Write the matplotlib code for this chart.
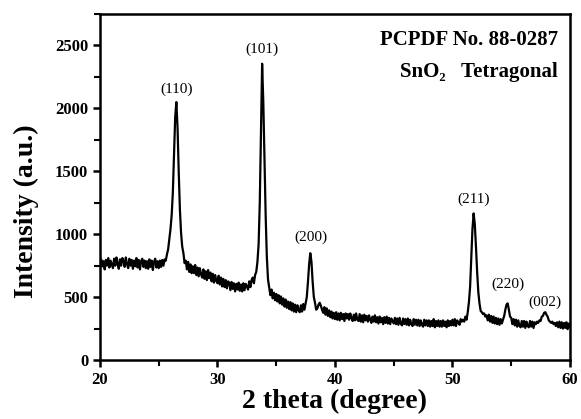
"""
XRD pattern of SnO2 (tetragonal, PCPDF 88-0287).
"""

import numpy as np
import matplotlib
matplotlib.use("Agg")
import matplotlib.pyplot as plt
from matplotlib.ticker import MultipleLocator

# ---------------------------------------------------------------------------
#  Data (0.1 degree step, 20..60)
# ---------------------------------------------------------------------------

two_theta_start = 20.0
two_theta_step = 0.1

intensity = [
    730, 800, 745, 785, 720, 795, 750, 810, 735, 790,      # 20
    760, 730, 805, 750, 815, 765, 725, 800, 750, 810,      # 21
    790, 740, 815, 760, 730, 805, 750, 795, 725, 790,      # 22
    745, 810, 735, 795, 720, 785, 805, 740, 790, 730,      # 23
    785, 725, 800, 740, 790, 715, 780, 805, 735, 785,      # 24
    730, 790, 740, 795, 750, 800, 790, 840, 880, 960,      # 25
    1040, 1150, 1330, 1640, 1930, 2050, 1850, 1500, 1200, 1010,  # 26
    900, 850, 770, 790, 720, 780, 700, 760, 690, 745,      # 27
    690, 755, 675, 735, 665, 730, 680, 655, 720, 645,      # 28
    705, 635, 715, 650, 695, 625, 685, 615, 675, 630,      # 29
    610, 670, 600, 655, 585, 645, 580, 635, 570, 625,      # 30
    615, 555, 620, 565, 610, 545, 605, 560, 615, 550,      # 31
    600, 545, 610, 555, 605, 585, 560, 625, 580, 635,      # 32
    655, 610, 675, 700, 780, 920, 1250, 1800, 2355, 2050,  # 33
    1600, 1150, 820, 640, 575, 515, 560, 490, 535, 475,    # 34
    525, 465, 515, 450, 505, 440, 490, 425, 480, 415,      # 35
    465, 405, 460, 395, 450, 385, 440, 380, 435, 395,      # 36
    380, 435, 385, 445, 400, 450, 500, 620, 760, 849,      # 37
    780, 620, 500, 455, 400, 410, 440, 455, 430, 400,      # 38
    375, 420, 360, 410, 350, 395, 340, 385, 330, 375,      # 39
    325, 380, 320, 370, 315, 375, 325, 365, 310, 370,      # 40
    330, 365, 320, 370, 335, 310, 360, 315, 370, 320,      # 41
    310, 365, 305, 355, 300, 360, 315, 350, 305, 355,      # 42
    320, 295, 345, 305, 355, 300, 340, 290, 345, 300,      # 43
    335, 285, 340, 295, 345, 290, 335, 285, 330, 310,      # 44
    290, 335, 285, 330, 280, 335, 290, 275, 330, 285,      # 45
    325, 280, 330, 275, 320, 285, 270, 325, 280, 320,      # 46
    275, 320, 270, 315, 280, 265, 320, 275, 315, 270,      # 47
    315, 265, 310, 270, 325, 260, 310, 270, 315, 265,      # 48
    310, 265, 315, 270, 305, 260, 315, 270, 310, 275,      # 49
    320, 275, 325, 270, 315, 300, 280, 325, 305, 320,      # 50
    305, 345, 320, 380, 460, 580, 800, 1040, 1165, 1080,   # 51
    900, 700, 540, 450, 390, 380, 365, 370, 345, 355,      # 52
    315, 360, 305, 350, 295, 345, 290, 335, 285, 330,      # 53
    280, 325, 290, 320, 350, 400, 440, 450, 400, 345,      # 54
    335, 285, 325, 275, 320, 265, 315, 270, 260, 310,      # 55
    265, 310, 255, 305, 270, 260, 310, 265, 305, 255,      # 56
    300, 285, 305, 295, 315, 310, 345, 350, 375, 380,      # 57
    360, 345, 315, 305, 295, 305, 285, 295, 270, 300,      # 58
    260, 305, 255, 300, 250, 295, 255, 300, 245, 290,      # 59
    265,                                                    # 60
]
two_theta = two_theta_start + two_theta_step * np.arange(len(intensity))

# peak labels: (hkl, 2theta, label height)
peak_labels = ["(110)", "(101)", "(200)", "(211)", "(220)", "(002)"]
peak_pos = [26.5, 33.8, 37.95, 51.8, 54.7, 57.85]
peak_label_y = [2100, 2420, 925, 1225, 545, 405]

# ---------------------------------------------------------------------------
#  Plot
# ---------------------------------------------------------------------------

plt.rcParams["font.family"] = ["Liberation Serif", "DejaVu Serif"]

fig = plt.figure(figsize=(5.81, 4.19), dpi=100)
ax = fig.add_axes([0.1721, 0.1408, 0.8089, 0.8258])

ax.plot(two_theta, intensity, color="black", lw=1.6)

for lab, x, y in zip(peak_labels, peak_pos, peak_label_y):
    ax.text(x, y, lab, ha="center", va="bottom", fontsize=11)

ax.text(0.975, 0.955, "PCPDF No. 88-0287", transform=ax.transAxes,
        ha="right", va="top", fontsize=15, fontweight="bold")
ax.text(0.975, 0.862, "SnO\u2082   Tetragonal", transform=ax.transAxes,
        ha="right", va="top", fontsize=15, fontweight="bold")

ax.set_xlim(20, 60)
ax.set_ylim(0, 2750)
ax.xaxis.set_major_locator(MultipleLocator(10))
ax.xaxis.set_minor_locator(MultipleLocator(5))
ax.yaxis.set_major_locator(MultipleLocator(500))
ax.yaxis.set_minor_locator(MultipleLocator(250))

ax.tick_params(which="major", direction="out", length=5, width=1.8,
               labelsize=12)
ax.tick_params(which="minor", direction="out", length=4, width=1.5)
for lab in ax.get_xticklabels() + ax.get_yticklabels():
    lab.set_fontweight("bold")
for sp in ax.spines.values():
    sp.set_linewidth(1.8)

ax.set_xlabel("2 theta (degree)", fontsize=20, fontweight="bold", labelpad=1)
ax.set_ylabel("Intensity (a.u.)", fontsize=20, fontweight="bold")
ax.yaxis.set_label_coords(-0.13, 0.43)

plt.savefig("out.png", dpi=100)
